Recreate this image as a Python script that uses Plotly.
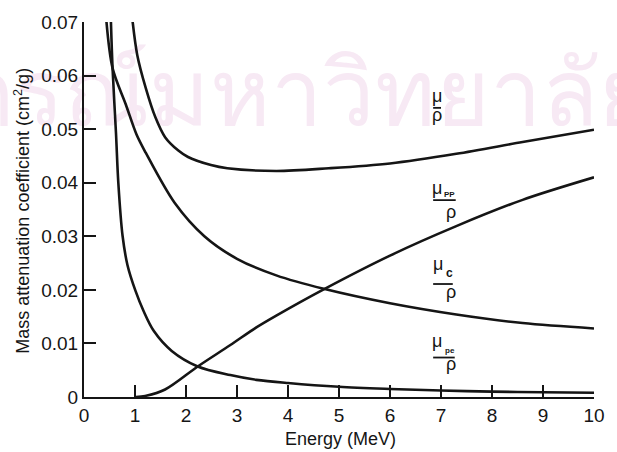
import plotly.graph_objects as go

# ---- data ----
energy_total = [0.94, 1.045, 1.21, 1.40, 1.59, 1.85, 2.04, 2.49, 2.81, 3.77, 4.8, 6.0, 7.3, 8.6, 10.0]
mu_total = [0.0712, 0.0638, 0.0577, 0.0522, 0.0485, 0.0460, 0.0448, 0.0433, 0.0427, 0.0422, 0.0427, 0.0436, 0.0454, 0.0476, 0.0499]

energy_pp = [1.02, 1.2, 1.59, 2.23, 2.87, 3.38, 3.77, 4.70, 6.0, 7.3, 8.6, 10.0]
mu_pp = [0.0, 0.0002, 0.0014, 0.0057, 0.0097, 0.0130, 0.0152, 0.0201, 0.0264, 0.0319, 0.0368, 0.0410]

energy_c = [0.43, 0.56, 0.82, 1.03, 1.21, 1.78, 2.36, 3.0, 3.77, 4.70, 6.0, 7.3, 8.6, 10.0]
mu_c = [0.0712, 0.0614, 0.0546, 0.0490, 0.0456, 0.0362, 0.0300, 0.0258, 0.0227, 0.0202, 0.0175, 0.0154, 0.0138, 0.0128]

energy_pe = [0.52, 0.56, 0.628, 0.673, 0.756, 0.853, 1.01, 1.17, 1.37, 1.72, 2.23, 2.87, 3.38, 4.0, 5.0, 6.0, 7.0, 8.0, 9.0, 10.0]
mu_pe = [0.0725, 0.0614, 0.0491, 0.0400, 0.0301, 0.0246, 0.0198, 0.0160, 0.0123, 0.0086, 0.0057, 0.0041, 0.0032, 0.0026, 0.0019, 0.0015, 0.0012, 0.0010, 0.0009, 0.0008]

x_tickvals = [0, 1, 2, 3, 4, 5, 6, 7, 8, 9, 10]
x_ticktext = ["0", "1", "2", "3", "4", "5", "6", "7", "8", "9", "10"]
y_tickvals = [0, 0.01, 0.02, 0.03, 0.04, 0.05, 0.06, 0.07]
y_ticktext = ["0", "0.01", "0.02", "0.03", "0.04", "0.05", "0.06", "0.07"]

x_title = "Energy (MeV)"
y_title = "Mass attenuation coefficient (cm<sup>2</sup>/g)"
watermark = "กรณ์มหาวิทยาลัย"

# curve-label subscripts (total, pair production, Compton, photoelectric)
label_subs = ["", "PP", "c", "pe"]

# ---- layout geometry (pixels) ----
W, H = 617, 452
ML, MR, MT, MB = 84, 13, 17, 55
X0, X1 = 0, 10
Y0, Y1 = 0, 0.07
PW, PH = W - ML - MR, H - MT - MB


def dx(px):
    return X0 + (px - ML) / PW * (X1 - X0)


def dy(py):
    return Y0 + (H - MB - py) / PH * (Y1 - Y0)


def px_paper(px):
    return (px - ML) / PW


def py_paper(py):
    return (H - MB - py) / PH


# label layout per fraction: mu centre (px,py), sub (px,py), bar (x0,x1,py), rho (px,py)
label_layout = [
    dict(mu=(444, 92), sub=None, bar=(440, 448, 104), rho=(444, 111)),
    dict(mu=(444, 185), sub=(457, 192), bar=(440, 463, 197.5), rho=(458, 210)),
    dict(mu=(445, 262), sub=(457, 271), bar=(440, 460, 282.5), rho=(458, 291)),
    dict(mu=(444, 340), sub=(457, 350), bar=(440, 462, 357), rho=(458, 364)),
]

FONT = "Liberation Sans, Arial, Helvetica, sans-serif"
LINE = "#151515"

fig = go.Figure()
for xs, ys in [(energy_total, mu_total), (energy_pp, mu_pp), (energy_c, mu_c), (energy_pe, mu_pe)]:
    fig.add_trace(go.Scatter(x=xs, y=ys, mode="lines",
                             line=dict(color=LINE, width=2.6, shape="spline", smoothing=0.9),
                             showlegend=False, hoverinfo="skip"))

ann = []
shapes = []
# very faint background watermark, drawn beneath everything
shapes.append(dict(type="rect", xref="paper", yref="paper", layer="below",
                   x0=px_paper(-30), x1=px_paper(650), y0=py_paper(120), y1=py_paper(40),
                   line=dict(width=0), fillcolor="rgba(0,0,0,0)",
                   label=dict(text=watermark, textposition="middle center",
                              font=dict(size=92, color="#f7e9f4"))))

for sub, lay in zip(label_subs, label_layout):
    mx, my = lay["mu"]
    ann.append(dict(text="μ", x=dx(mx), y=dy(my), xref="x", yref="y", showarrow=False,
                    xanchor="center", yanchor="middle", font=dict(size=18, color=LINE, family=FONT)))
    if sub:
        sx, sy = lay["sub"]
        ann.append(dict(text="<b>" + sub + "</b>", x=dx(sx), y=dy(sy), xref="x", yref="y", showarrow=False,
                        xanchor="center", yanchor="middle",
                        font=dict(size=8 if sub != "c" else 12, color=LINE, family=FONT)))
    bx0, bx1, by = lay["bar"]
    shapes.append(dict(type="line", xref="x", yref="y", x0=dx(bx0), x1=dx(bx1),
                       y0=dy(by), y1=dy(by), line=dict(color=LINE, width=1.8)))
    rx, ry = lay["rho"]
    ann.append(dict(text="ρ", x=dx(rx), y=dy(ry), xref="x", yref="y", showarrow=False,
                    xanchor="center", yanchor="middle", font=dict(size=18, color=LINE, family=FONT)))

# axis titles
ann.append(dict(text=y_title, xref="paper", yref="paper", x=px_paper(21), y=py_paper(208),
                textangle=-90, showarrow=False, xanchor="center", yanchor="middle",
                font=dict(size=18, color=LINE, family=FONT)))
ann.append(dict(text=x_title, xref="paper", yref="paper", x=px_paper(346), y=py_paper(440),
                showarrow=False, xanchor="center", yanchor="middle",
                font=dict(size=18, color=LINE, family=FONT)))

axis_common = dict(showgrid=False, zeroline=False, showline=True, linecolor=LINE, linewidth=2,
                   ticks="inside", ticklen=12, tickwidth=1.5, tickcolor=LINE,
                   tickfont=dict(size=19, family=FONT, color=LINE))

fig.update_layout(
    width=W, height=H,
    margin=dict(l=ML, r=MR, t=MT, b=MB),
    paper_bgcolor="white", plot_bgcolor="white",
    font=dict(family=FONT, size=18, color=LINE),
    annotations=ann, shapes=shapes,
    xaxis=dict(range=[X0, X1], tickvals=x_tickvals, ticktext=x_ticktext, **axis_common),
    yaxis=dict(range=[Y0, Y1], tickvals=y_tickvals, ticktext=y_ticktext, **axis_common),
)

fig.write_html("out.html")
